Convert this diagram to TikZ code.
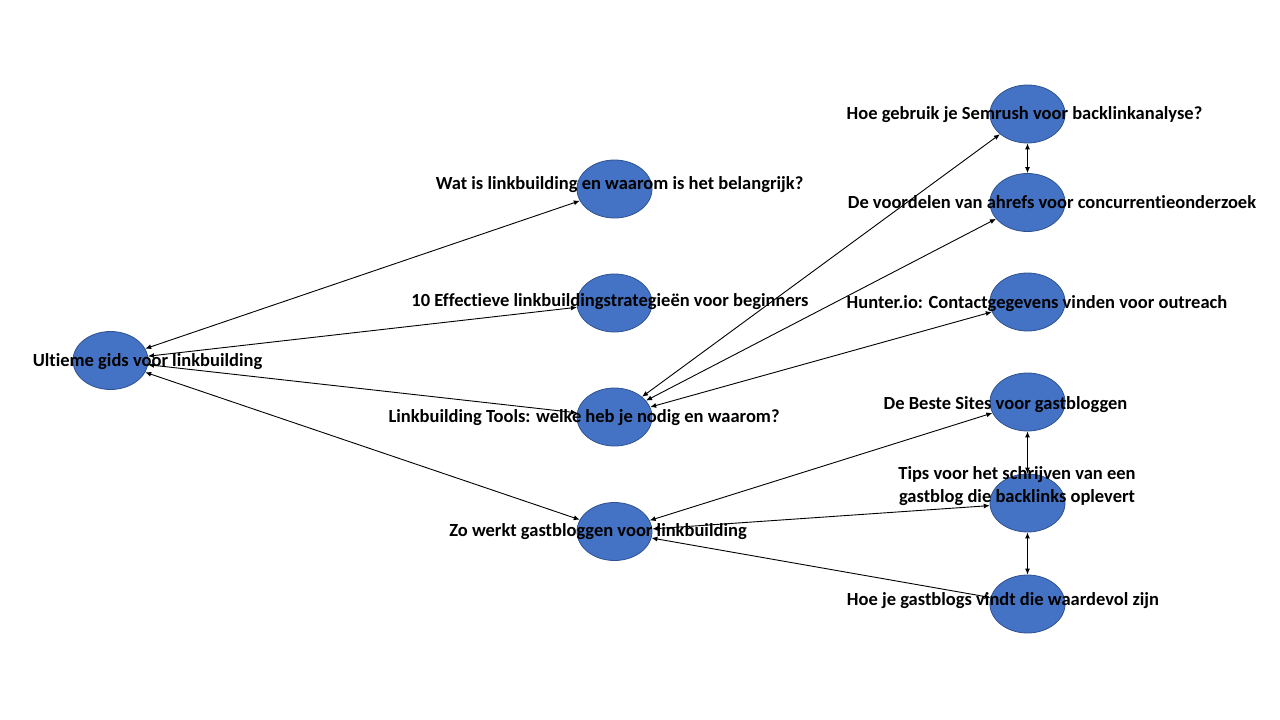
\documentclass[tikz,border=0pt]{standalone}
\usepackage{fontspec}
\setmainfont{Carlito}[Ligatures=CommonOff]
\usetikzlibrary{arrows.meta,shapes.geometric}

\definecolor{bubblefill}{HTML}{4472C4}
\definecolor{bubbleline}{HTML}{2F528F}

\tikzset{
  bubble/.style={ellipse,draw=bubbleline,fill=bubblefill,line width=0.8pt,
    minimum width=75pt,minimum height=58pt,inner sep=0pt},
  caption/.style={font=\fontsize{18.5}{23}\selectfont\bfseries,inner sep=0pt,align=center,yshift=-2pt},
  link/.style={{Latex[length=6pt,width=5pt]}-{Latex[length=6pt,width=5pt]},line width=0.9pt}
}

\begin{document}
\begin{tikzpicture}[x=1pt,y=-1pt]
        \useasboundingbox (0,0) rectangle (1280,720);
        % bubbles
        \foreach \n/\x/\y in {gids/110.5/360.5, wat/614.5/189, tien/614.5/303,
          tools/614.5/417, gast/614.5/531.5, semrush/1027.5/114, ahrefs/1027.5/202.5,
          hunter/1027.5/302, sites/1027.5/402, tips/1027.5/503, vind/1027.5/604} {
          \node[bubble] (\n) at (\x,\y) {};
        }
        % connectors
        \foreach \a/\b in {gids/wat, gids/tien, gids/tools, gids/gast,
          tools/semrush, tools/ahrefs, tools/hunter, semrush/ahrefs,
          gast/sites, gast/tips, gast/vind, sites/tips, tips/vind} {
          \draw[link] (\a) -- (\b);
        }
        % captions
        \node[caption] (gidsT) at (147.5,360) {Ultieme gids voor linkbuilding};
        \node[caption] (watT) at (619.5,183) {Wat is linkbuilding en waarom is het belangrijk?};
        \node[caption] (tienT) at (610,300) {10 Effectieve linkbuildingstrategieën voor beginners};
        \node[caption] (toolsT) at (584,416) {Linkbuilding Tools: welke heb je nodig en waarom?};
        \node[caption] (gastT) at (598,530) {Zo werkt gastbloggen voor linkbuilding};
        \node[caption] (semrushT) at (1024.5,113) {Hoe gebruik je Semrush voor backlinkanalyse?};
        \node[caption] (ahrefsT) at (1052,200) {De voordelen van ahrefs voor concurrentieonderzoek};
        \node[caption] (hunterT) at (1037,302) {Hunter.io: Contactgegevens vinden voor outreach};
        \node[caption] (sitesT) at (1005.5,403) {De Beste Sites voor gastbloggen};
        \node[caption] (tipsT) at (1017,484) {Tips voor het schrijven van een\\gastblog die backlinks oplevert};
        \node[caption] (vindT) at (1003,599) {Hoe je gastblogs vindt die waardevol zijn};
\end{tikzpicture}
\end{document}
